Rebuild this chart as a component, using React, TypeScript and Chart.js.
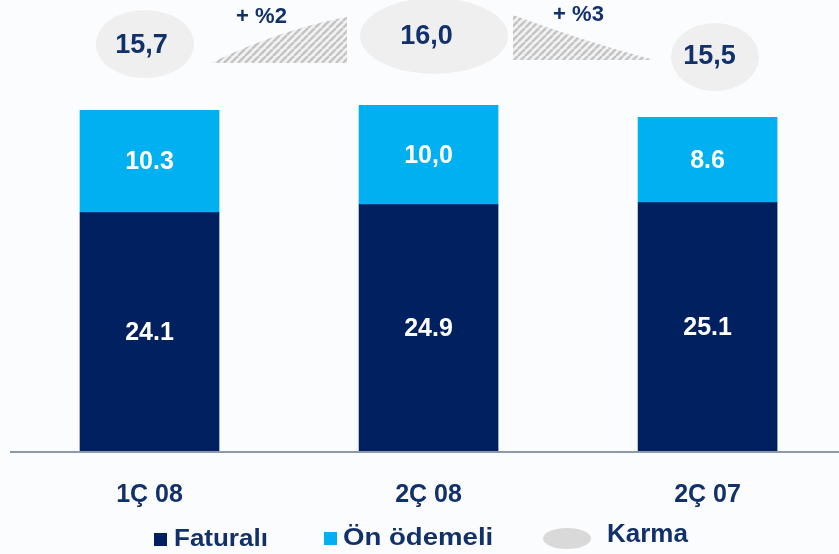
import React, { useEffect, useRef } from "react";
import { Chart, registerables } from "chart.js";

Chart.register(...registerables);

// ---- data ----
const categories = ["1Ç 08", "2Ç 08", "2Ç 07"];
const faturali = [24.1, 24.9, 25.1];
const faturaliLabels = ["24.1", "24.9", "25.1"];
const onOdemeli = [10.3, 10.0, 8.6];
const onOdemeliLabels = ["10.3", "10,0", "8.6"];
const karma = ["15,7", "16,0", "15,5"];
const changes = ["+ %2", "+ %3"];
const legendLabels = ["Faturalı", "Ön ödemeli", "Karma"];

// ---- style / layout ----
const NAVY = "#002060";
const SKY = "#00B0F0";
const TEXT = "#12316b";
const FONT = "'Liberation Sans', Arial, sans-serif";
const BG = "#fbfcfe";

const karmaShapes = [
  { dx: -4.5, cy: 44, rx: 49, ry: 34, tdx: -3.5, tdy: 9 },
  { dx: 5.5, cy: 36, rx: 74, ry: 38, tdx: -7.5, tdy: 8 },
  { dx: 7.5, cy: 57, rx: 44, ry: 34, tdx: -5.5, tdy: 7 },
];

const wedges = [
  { x0: 211, y0: 63, cx: 279, cy: 30, x1: 347, y1: 17, base: 63, rightBase: true, tx: 261.5, ty: 23 },
  { x0: 513, y0: 15, cx: 584.5, cy: 41.5, x1: 654, y1: 60, base: 60, rightBase: false, tx: 578.5, ty: 21 },
];

function makePattern(ctx: CanvasRenderingContext2D) {
  const c = document.createElement("canvas");
  c.width = 7;
  c.height = 7;
  const p = c.getContext("2d")!;
  p.fillStyle = "#f2f2f2";
  p.fillRect(0, 0, 7, 7);
  p.strokeStyle = "#c4c4c4";
  p.lineWidth = 2.4;
  p.beginPath();
  for (let k = -7; k <= 14; k += 7) {
    p.moveTo(k, 7);
    p.lineTo(k + 7, 0);
  }
  p.stroke();
  return ctx.createPattern(c, "repeat")!;
}

const overlay = {
  id: "overlay",
  beforeDraw(chart: any) {
    const ctx = chart.ctx;
    ctx.save();
    ctx.fillStyle = BG;
    ctx.fillRect(0, 0, chart.width, chart.height);
    ctx.restore();
  },
  afterDatasetsDraw(chart: any) {
    const ctx: CanvasRenderingContext2D = chart.ctx;
    const xs = chart.scales.x;
    ctx.save();

    // axis line
    ctx.strokeStyle = "#8e98ab";
    ctx.lineWidth = 2;
    ctx.beginPath();
    ctx.moveTo(10, 452);
    ctx.lineTo(chart.width, 452);
    ctx.stroke();

    // bar labels
    ctx.fillStyle = "#ffffff";
    ctx.font = `bold 25px ${FONT}`;
    ctx.textAlign = "center";
    ctx.textBaseline = "middle";
    const lbls = [faturaliLabels, onOdemeliLabels];
    [0, 1].forEach((d) => {
      chart.getDatasetMeta(d).data.forEach((el: any, i: number) => {
        ctx.fillText(lbls[d][i], el.x, (el.y + el.base) / 2 + 1);
      });
    });

    // category labels
    ctx.fillStyle = TEXT;
    ctx.font = `bold 25px ${FONT}`;
    ctx.textBaseline = "alphabetic";
    categories.forEach((c, i) => {
      ctx.fillText(c, xs.getPixelForValue(i), 502);
    });

    // karma ellipses
    karma.forEach((k, i) => {
      const s = karmaShapes[i];
      const cx = xs.getPixelForValue(i) + s.dx;
      ctx.fillStyle = "#efefef";
      ctx.beginPath();
      ctx.ellipse(cx, s.cy, s.rx, s.ry, 0, 0, Math.PI * 2);
      ctx.fill();
      ctx.fillStyle = TEXT;
      ctx.font = `bold 27px ${FONT}`;
      ctx.textAlign = "center";
      ctx.fillText(k, cx + s.tdx, s.cy + s.tdy);
    });

    // hatched wedges
    const pat = makePattern(ctx);
    wedges.forEach((w, i) => {
      ctx.fillStyle = pat;
      ctx.beginPath();
      ctx.moveTo(w.x0, w.y0);
      ctx.quadraticCurveTo(w.cx, w.cy, w.x1, w.y1);
      if (w.rightBase) {
        ctx.lineTo(w.x1, w.base);
      } else {
        ctx.lineTo(w.x0, w.base);
      }
      ctx.closePath();
      ctx.fill();
      ctx.fillStyle = TEXT;
      ctx.font = `bold 22px ${FONT}`;
      ctx.textAlign = "center";
      ctx.fillText(changes[i], w.tx, w.ty);
    });

    // legend
    ctx.textAlign = "left";
    ctx.textBaseline = "alphabetic";
    const drawStretched = (t: string, x: number, y: number, size: number, sx: number) => {
      ctx.save();
      ctx.translate(x, y);
      ctx.scale(sx, 1);
      ctx.font = `bold ${size}px ${FONT}`;
      ctx.fillStyle = TEXT;
      ctx.fillText(t, 0, 0);
      ctx.restore();
    };
    ctx.fillStyle = NAVY;
    ctx.fillRect(154, 533, 13, 13);
    drawStretched(legendLabels[0], 174, 546, 23, 1.13);
    ctx.fillStyle = SKY;
    ctx.fillRect(324, 532, 13, 13);
    drawStretched(legendLabels[1], 343, 545, 23, 1.2);
    ctx.fillStyle = "#d9d9d9";
    ctx.beginPath();
    ctx.ellipse(567, 538.5, 24, 10.5, 0, 0, Math.PI * 2);
    ctx.fill();
    drawStretched(legendLabels[2], 607, 542, 26, 1.0);

    ctx.restore();
  },
};

export default function App() {
  const ref = useRef<HTMLCanvasElement>(null);
  useEffect(() => {
    if (!ref.current) return;
    const chart = new Chart(ref.current, {
      type: "bar",
      data: {
        datasets: [
          {
            label: legendLabels[0],
            data: faturali.map((v, i) => ({ x: i, y: v })),
            backgroundColor: NAVY,
            borderWidth: 0,
            barThickness: 139,
          },
          {
            label: legendLabels[1],
            data: onOdemeli.map((v, i) => ({ x: i, y: v })),
            backgroundColor: SKY,
            borderWidth: 0,
            barThickness: 139,
          },
        ],
      },
      options: {
        responsive: false,
        animation: false,
        layout: { padding: { left: 10, right: 0, top: 5, bottom: 102 } },
        scales: {
          x: { type: "linear", min: -0.5, max: 2.471, offset: false, display: false, stacked: true },
          y: { min: 0, max: 45, display: false, stacked: true },
        },
        plugins: { legend: { display: false }, tooltip: { enabled: false } },
      },
      plugins: [overlay],
    });
    return () => chart.destroy();
  }, []);
  return (
    <div style={{ position: "absolute", left: 0, top: 0, width: 839, height: 554 }}>
      <canvas ref={ref} width={839} height={554} style={{ display: "block" }} />
    </div>
  );
}
